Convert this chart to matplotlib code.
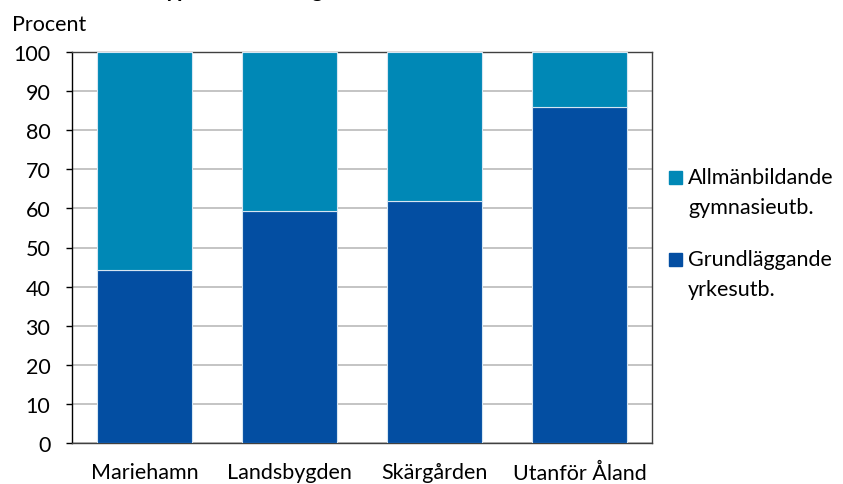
import matplotlib
matplotlib.use("Agg")
import matplotlib.pyplot as plt
import matplotlib.patches as mpatches
import numpy as np

# data
categories = ["Mariehamn", "Landsbygden", "Skärgården", "Utanför Åland"]
yrkes = [44.3, 59.3, 61.9, 85.9]          # Grundläggande yrkesutb.
allman = [100 - v for v in yrkes]         # Allmänbildande gymnasieutb.
yticks = list(range(0, 101, 10))
legend_labels = ["Allmänbildande\ngymnasieutb.", "Grundläggande\nyrkesutb."]

DARK = "#034EA2"
LIGHT = "#0088B6"
FS = 15.5

plt.rcParams["font.family"] = ["Lato", "DejaVu Sans"]

fig = plt.figure(figsize=(8.43, 4.85), dpi=100)
W, H = 843, 485
ax = fig.add_axes([72 / W, 41 / H, 580 / W, 391 / H])

x = np.arange(len(categories))
ax.bar(x, yrkes, 0.66, color=DARK, edgecolor="#D6E6F2", linewidth=0.8, zorder=3)
ax.bar(x, allman, 0.66, bottom=yrkes, color=LIGHT, edgecolor="#D6E6F2",
       linewidth=0.8, zorder=3)

ax.set_xlim(-0.5, len(categories) - 0.5)
ax.set_ylim(0, 100)
ax.set_yticks(yticks)
ax.set_xticks(x)
ax.set_xticklabels(categories, fontsize=FS)
ax.tick_params(axis="x", length=0, pad=14)
ax.tick_params(axis="y", length=4.5, width=1, direction="out", labelsize=FS, pad=11)
ax.yaxis.grid(True, color="#BFBFBF", linewidth=1.3, zorder=0)
ax.set_axisbelow(True)
for s in ax.spines.values():
    s.set_color("#404040")
    s.set_linewidth(1.0)
ax.spines["left"].set_color("black")

fig.text(12 / W, 1 - 31 / H, "Procent", fontsize=FS)
# title sits almost entirely above the visible area, as in the reference
fig.text(-0.02, 1.0 + 3 / H, "Studerande efter typ av utbildning", fontsize=16,
         fontweight="bold", va="baseline")

# legend drawn by hand: square aligned with the first text line
for i, (lab, col) in enumerate(zip(legend_labels, [LIGHT, DARK])):
    top = 172 + i * 82
    fig.add_artist(mpatches.Rectangle((669 / W, 1 - (top + 13) / H), 13 / W, 13 / H,
                                      transform=fig.transFigure, color=col))
    fig.text(688 / W, 1 - (top - 4) / H, lab, fontsize=FS, va="top",
             linespacing=1.65)

fig.savefig("out.png", dpi=100)
